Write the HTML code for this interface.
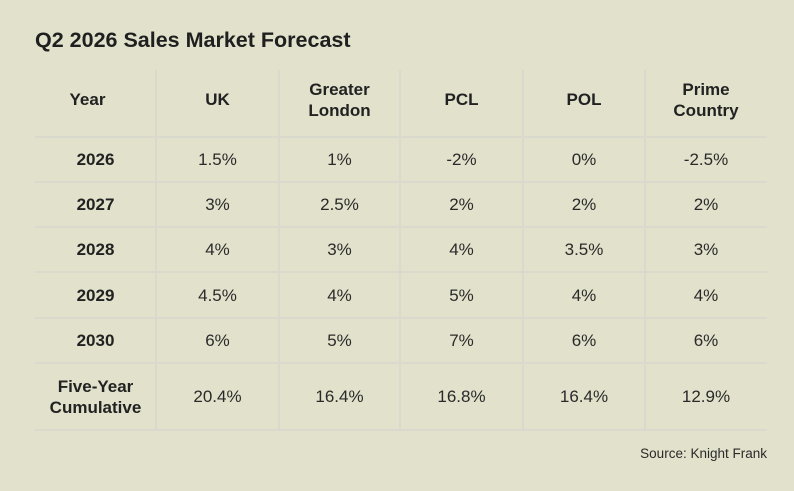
<!DOCTYPE html>
<html><head><style>
body{margin:0;width:794px;height:491px;background:#e2e1cb;font-family:"Liberation Sans",sans-serif;color:#222;position:relative;overflow:hidden}
.t{position:absolute;left:35px;top:28px;font-size:21.5px;font-weight:bold;color:#1f1f1f;white-space:nowrap}
.h{position:absolute;height:2px;background:#d9d9cd;left:35px;width:732px}
.v{position:absolute;width:2px;background:#d9d9cd;top:70px;height:361px}
.c{position:absolute;display:flex;align-items:center;justify-content:center;text-align:center;font-size:17px;line-height:21px;color:#2a2a2a}
.b{font-weight:bold;color:#222}
.s{position:absolute;right:27px;top:446px;font-size:13.5px;color:#2a2a2a}
</style></head><body>
<div class="t">Q2 2026 Sales Market Forecast</div>
<div class="h" style="top:136px"></div>
<div class="h" style="top:181px"></div>
<div class="h" style="top:226px"></div>
<div class="h" style="top:271px"></div>
<div class="h" style="top:317px"></div>
<div class="h" style="top:362px"></div>
<div class="h" style="top:429px"></div>
<div class="v" style="left:155px"></div>
<div class="v" style="left:278px"></div>
<div class="v" style="left:399px"></div>
<div class="v" style="left:522px"></div>
<div class="v" style="left:644px"></div>
<div id="g"></div>
<script>
var cols=[35,156,279,400,523,645,767];
var rows=[[66,133],[137,182],[182,227],[227,272],[272,318],[318,363],[363,430]];
var d=[["Year","UK","Greater<br>London","PCL","POL","Prime<br>Country"],
["2026","1.5%","1%","-2%","0%","-2.5%"],
["2027","3%","2.5%","2%","2%","2%"],
["2028","4%","3%","4%","3.5%","3%"],
["2029","4.5%","4%","5%","4%","4%"],
["2030","6%","5%","7%","6%","6%"],
["Five-Year<br>Cumulative","20.4%","16.4%","16.8%","16.4%","12.9%"]];
var h="";
for(var r=0;r<7;r++)for(var c=0;c<6;c++){
var b=(r==0||c==0)?" b":"";
var w=cols[c+1]-cols[c], l=cols[c];
if(r==0&&c==0){w-=16;}
h+='<div class="c'+b+'" style="left:'+l+'px;width:'+w+'px;top:'+rows[r][0]+'px;height:'+(rows[r][1]-rows[r][0])+'px">'+d[r][c]+'</div>';}
document.getElementById("g").innerHTML=h;
</script>
<div class="s">Source: Knight Frank</div>
</body></html>
